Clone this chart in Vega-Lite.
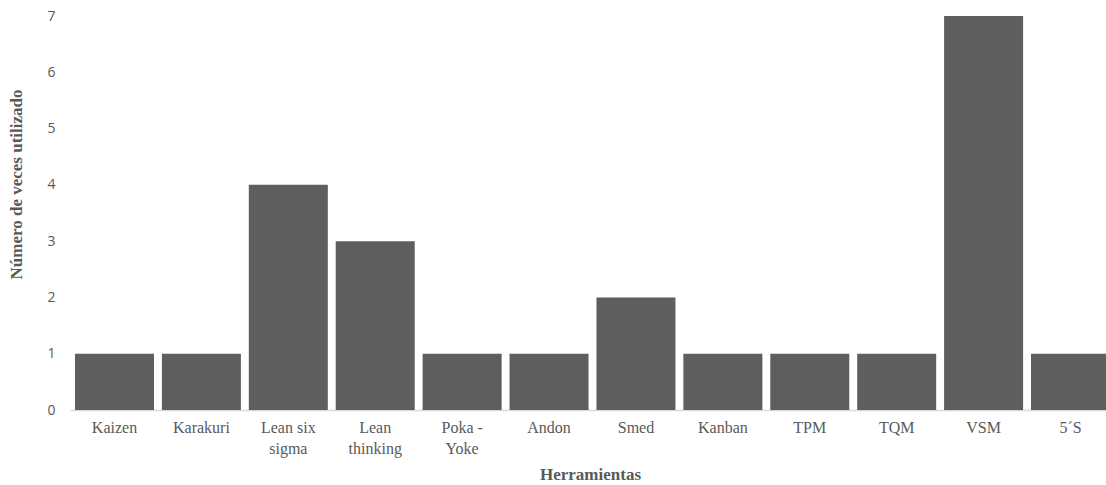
{
  "$schema": "https://vega.github.io/schema/vega-lite/v6.json",
  "width": 1045,
  "height": 394,
  "autosize": {"type": "none"},
  "padding": {"left": 70, "top": 16, "right": 0, "bottom": 75},
  "background": "white",
  "data": {
    "values": [
      {"herramienta": "Kaizen", "veces": 1},
      {"herramienta": "Karakuri", "veces": 1},
      {"herramienta": "Lean six sigma", "veces": 4},
      {"herramienta": "Lean thinking", "veces": 3},
      {"herramienta": "Poka - Yoke", "veces": 1},
      {"herramienta": "Andon", "veces": 1},
      {"herramienta": "Smed", "veces": 2},
      {"herramienta": "Kanban", "veces": 1},
      {"herramienta": "TPM", "veces": 1},
      {"herramienta": "TQM", "veces": 1},
      {"herramienta": "VSM", "veces": 7},
      {"herramienta": "5´S", "veces": 1}
    ]
  },
  "mark": {"type": "bar", "color": "#5e5e5e"},
  "encoding": {
    "x": {
      "field": "herramienta",
      "type": "nominal",
      "sort": null,
      "scale": {"paddingInner": 0.091, "paddingOuter": 0.0575},
      "axis": {
        "title": "Herramientas",
        "titleFont": "Liberation Serif",
        "titleFontSize": 17,
        "titleFontWeight": "bold",
        "titleColor": "#595959",
        "titleX": 520,
        "titleY": 56,
        "labelAngle": 0,
        "labelFont": "Liberation Serif",
        "labelFontSize": 16,
        "labelColor": "#595959",
        "labelPadding": 9,
        "labelLineHeight": 21,
        "labelExpr": "datum.label == 'Lean six sigma' ? ['Lean six', 'sigma'] : datum.label == 'Lean thinking' ? ['Lean', 'thinking'] : datum.label == 'Poka - Yoke' ? ['Poka -', 'Yoke'] : datum.label",
        "ticks": false,
        "domainColor": "#d9d9d9",
        "domainWidth": 1.5,
        "grid": false
      }
    },
    "y": {
      "field": "veces",
      "type": "quantitative",
      "scale": {"domain": [0, 7], "nice": false},
      "axis": {
        "title": "Número de veces utilizado",
        "titleFont": "Liberation Serif",
        "titleFontSize": 17,
        "titleFontWeight": "bold",
        "titleColor": "#595959",
        "titleX": -45,
        "titleY": 168,
        "values": [0, 1, 2, 3, 4, 5, 6, 7],
        "labelFont": "Open Sans",
        "labelFontSize": 14,
        "labelColor": "#595959",
        "labelPadding": 15,
        "ticks": false,
        "domain": false,
        "grid": false
      }
    }
  },
  "config": {"view": {"stroke": null}}
}
